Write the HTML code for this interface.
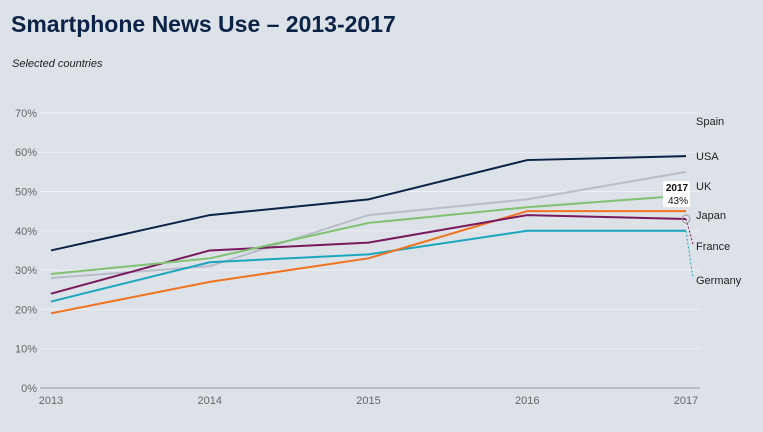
<!DOCTYPE html>
<html><head><meta charset="utf-8"><style>
body{margin:0;width:763px;height:427px;background:#dde1e8;font-family:"Liberation Sans",sans-serif;overflow:hidden}
</style></head><body>
<svg width="763" height="427">
<text x="11" y="32" font-size="23" font-weight="bold" fill="#0a2346">Smartphone News Use – 2013-2017</text>
<text x="12" y="67" font-size="11" font-style="italic" fill="#222">Selected countries</text>
<g id="grid"></g><g id="lines"></g><g id="labels"></g>
</svg>
<script>
const years=[2013,2014,2015,2016,2017];
const yTicks=[0,10,20,30,40,50,60,70];
const seriesNames=["Spain","USA","UK","Japan","France","Germany"];
const usa=[35,44,48,58,59];
const uk=[28,31,44,48,55];
const japan=[29,33,42,46,49];
const spain=[19,27,33,45,45];
const france=[24,35,37,44,43];
const germany=[22,32,34,40,40];
const NS="http://www.w3.org/2000/svg";
const x=i=>51+i*(686-51)/4, y=v=>388-v*3.93;
const svg=document.querySelector("svg");
function mk(t,a,p){const e=document.createElementNS(NS,t);for(const k in a)e.setAttribute(k,a[k]);(p||svg).appendChild(e);return e;}
const g=document.getElementById("grid"),L=document.getElementById("lines"),lb=document.getElementById("labels");
yTicks.forEach(t=>{const l=mk("line",{x1:40,x2:700,y1:y(t),y2:y(t),stroke:t?"#eef0f4":"#999","stroke-width":1},g);

const tx=mk("text",{x:37,y:y(t)+4,"text-anchor":"end","font-size":11,fill:"#666"},g);tx.textContent=t+"%";
});
years.forEach((yr,i)=>{const tx=mk("text",{x:x(i),y:404,"text-anchor":"middle","font-size":11,fill:"#666"},g);tx.textContent=yr;
});
const ser=[[uk,"#b8bdc9"],[germany,"#1aa6bd"],[spain,"#f07320"],[france,"#7a1a5e"],[japan,"#7fc26f"],[usa,"#0a2346"]];
ser.forEach(([d,c])=>{const p=mk("polyline",{points:d.map((v,i)=>x(i)+","+y(v)).join(" "),fill:"none",stroke:c,"stroke-width":2},L);
});
const labY=[121,156,186,215,246,280];
seriesNames.forEach((n,i)=>{const t=mk("text",{x:696,y:labY[i]+4,"font-size":11,fill:"#222"},lb);t.textContent=n;
});
mk("line",{x1:686,y1:y(germany[4]),x2:693,y2:278,stroke:"#1aa6bd","stroke-dasharray":"2,2"},lb);
mk("line",{x1:686,y1:y(france[4]),x2:693,y2:244,stroke:"#7a1a5e","stroke-dasharray":"2,2"},lb);
mk("circle",{cx:686,cy:y(france[4]),r:4,fill:"none",stroke:"#999"},lb);
const tb=mk("rect",{x:663,y:181,width:27,height:26,fill:"#fff",rx:2},lb);

const t1=mk("text",{x:677,y:191,"text-anchor":"middle","font-size":10,"font-weight":"bold",fill:"#111"},lb);t1.textContent="2017";
const t2=mk("text",{x:678,y:204,"text-anchor":"middle","font-size":10,fill:"#111"},lb);t2.textContent=france[4]+"%";
</script>
</body></html>
